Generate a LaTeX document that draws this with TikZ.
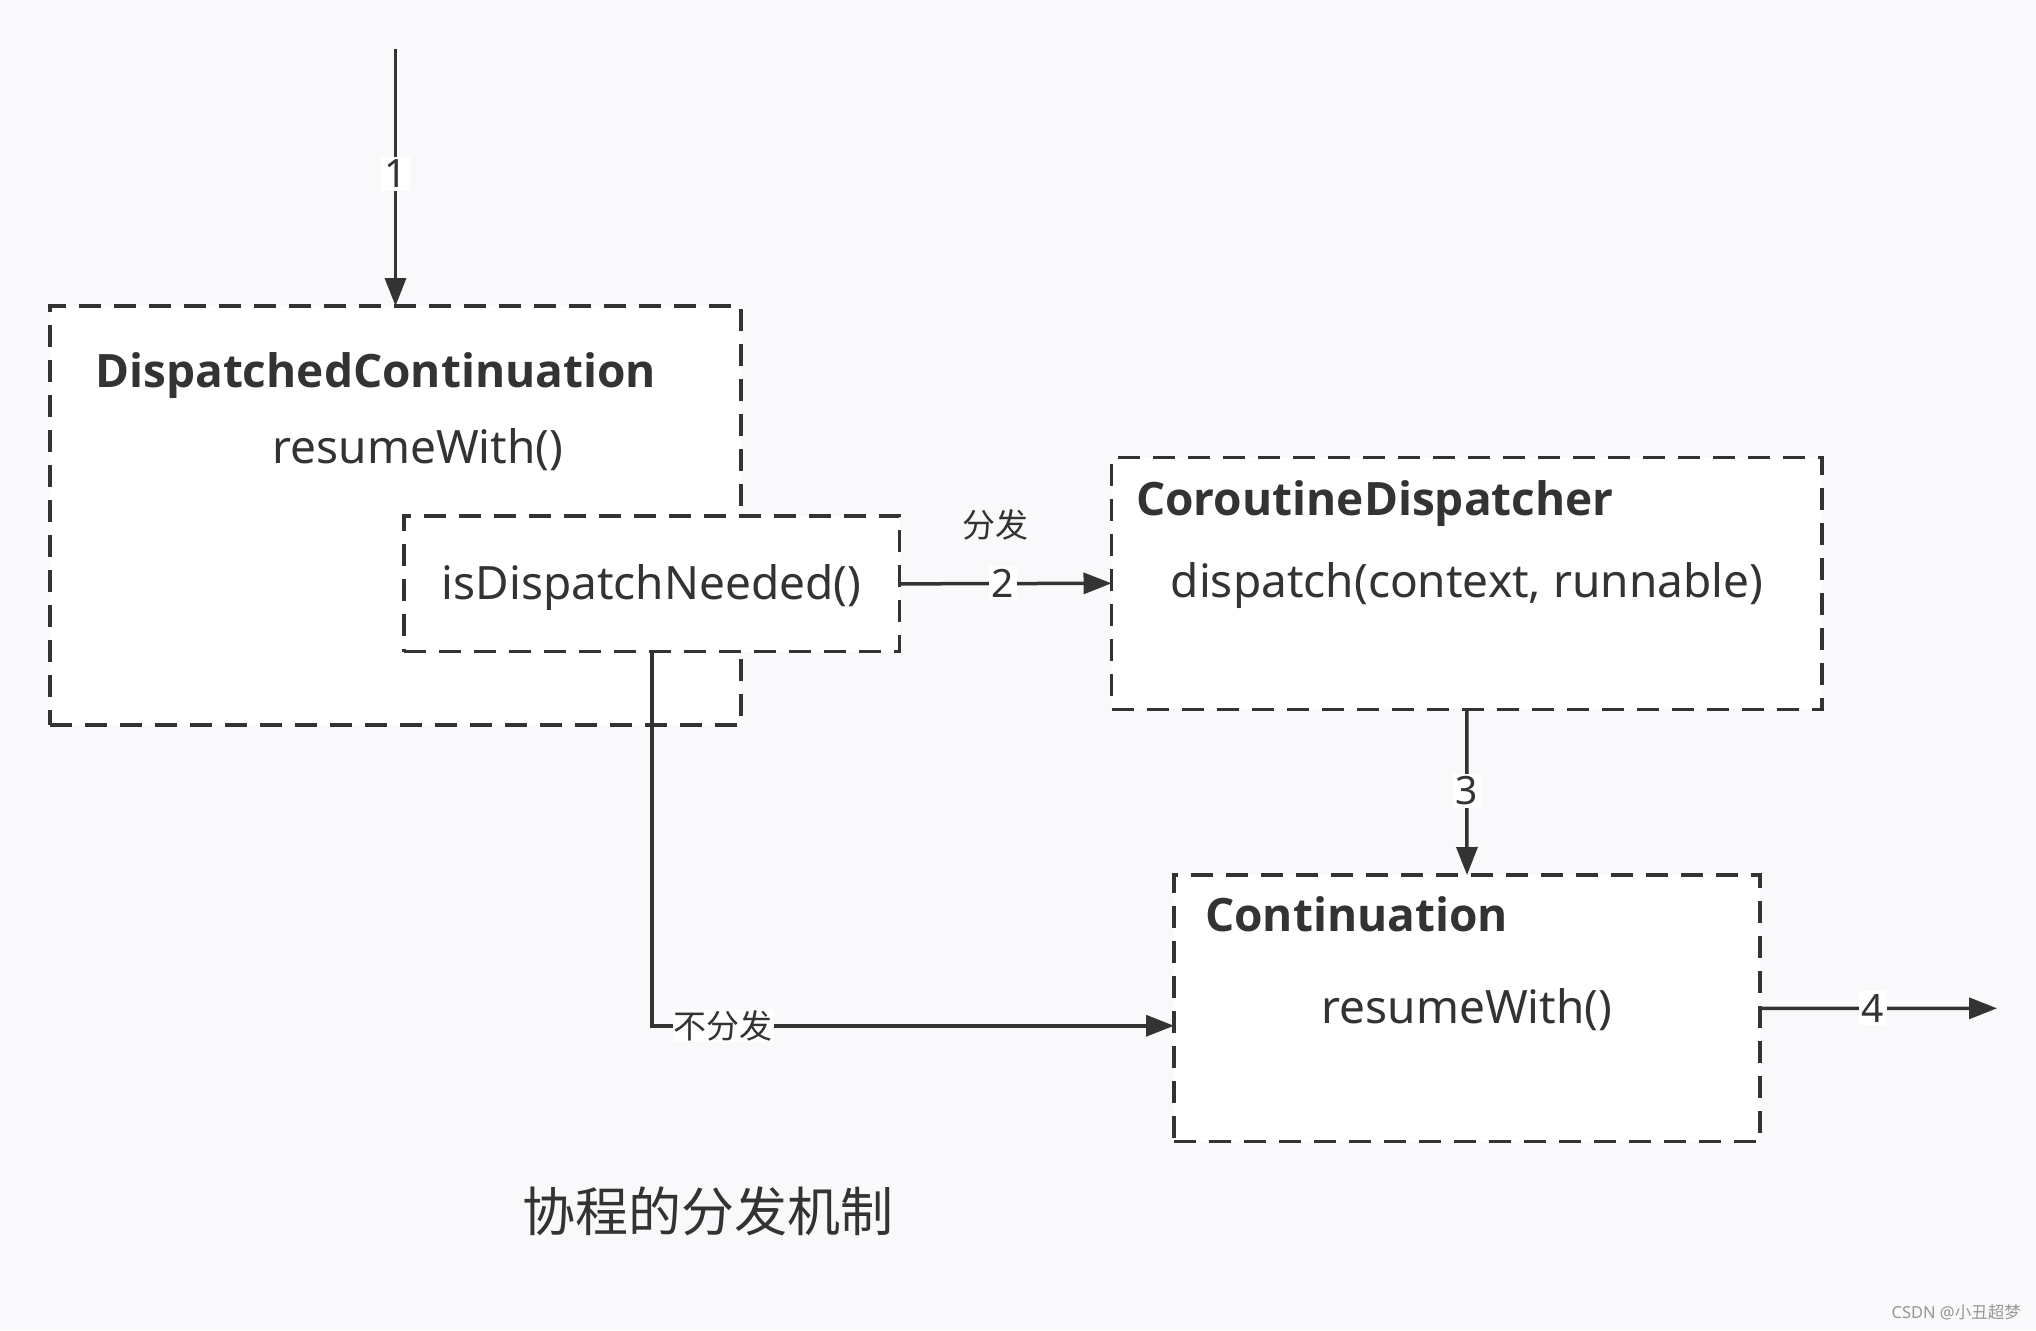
\documentclass[tikz,border=0pt]{standalone}
\usepackage{fontspec}
\setmainfont{Noto Sans}
\newfontfamily\boldf{Open Sans}
\newfontfamily\cjk{Noto Sans CJK SC}
\usetikzlibrary{arrows.meta}
\definecolor{bg}{RGB}{249,248,251}
\definecolor{ink}{RGB}{51,51,51}
\definecolor{wm}{RGB}{150,150,150}
\tikzset{
  box/.style={draw=ink, line width=3.5pt, dash pattern=on 22pt off 13pt, fill=white,
    anchor=north west, inner sep=0pt, outer sep=0pt},
  boldtxt/.style={text=ink, inner sep=0pt, anchor=base west, font=\boldf\bfseries\fontsize{46}{52}\selectfont},
  regtxt/.style={text=ink, inner sep=0pt, anchor=base, font=\fontsize{46}{55}\selectfont},
  arr/.style={draw=ink, line width=3.5pt, -{Triangle[length=28pt,width=21pt]}},
  numlbl/.style={fill=white, text=ink, inner sep=3pt, font=\fontsize{39}{44}\selectfont},
  cjklbl/.style={text=ink, inner sep=1pt, font=\cjk\fontsize{33}{40}\selectfont},
}
\begin{document}
\begin{tikzpicture}[x=1pt,y=-1pt]
\path[fill=bg] (0,0) rectangle (2036,1330);
\useasboundingbox (0,0) rectangle (2036,1330);

% boxes
\node[box, minimum width=691pt, minimum height=419pt] (A) at (50,306) {};
\node[box, minimum width=495.6pt, minimum height=135.7pt] (B) at (404,516) {};
\node[box, minimum width=710.5pt, minimum height=252pt] (C) at (1111.5,457.3) {};
\node[box, minimum width=586pt, minimum height=266.7pt] (D) at (1174,875) {};

% texts
\node[boldtxt] (tA) at (95,387) {DispatchedContinuation};
\node[regtxt] (rA) at (418,463) {resumeWith()};
\node[regtxt] (tB) at (651.5,599) {isDispatchNeeded()};
\node[boldtxt] (tC) at (1136,515) {CoroutineDispatcher};
\node[regtxt] (rC) at (1467,597) {dispatch(context, runnable)};
\node[boldtxt] (tD) at (1205,931) {Continuation};
\node[regtxt] (rD) at (1467,1023) {resumeWith()};

% connectors
\coordinate (s1) at (395.5,49);
\coordinate (e4) at (1997,1008.3);
\draw[arr] (s1) -- (A.north);
\draw[arr] (B.east) -- (C.west);
\draw[arr] (C.south) -- (D.north);
\draw[arr] (B.south) |- ([yshift=-17.4pt]D.west);
\draw[arr] (D.east) -- (e4);

% edge labels
\node[numlbl] (l1) at (395.5,174) {1};
\node[numlbl] (l2) at (1003,583.3) {2};
\node[cjklbl] (l2c) at (995,525) {分发};
\node[numlbl] (l3) at (1467,791) {3};
\node[numlbl] (l4) at (1873,1008.3) {4};
\node[cjklbl, fill=white] (l5) at (723,1025.7) {不分发};

% caption and watermark
\node[text=ink, inner sep=0pt, font=\cjk\fontsize{53}{60}\selectfont] (cap) at (708,1211) {协程的分发机制};
\node[text=wm, inner sep=0pt, anchor=east, font=\fontsize{16.5}{20}\selectfont] (wmk) at (2021,1312) {CSDN @{\cjk 小丑超梦}};
\end{tikzpicture}
\end{document}
